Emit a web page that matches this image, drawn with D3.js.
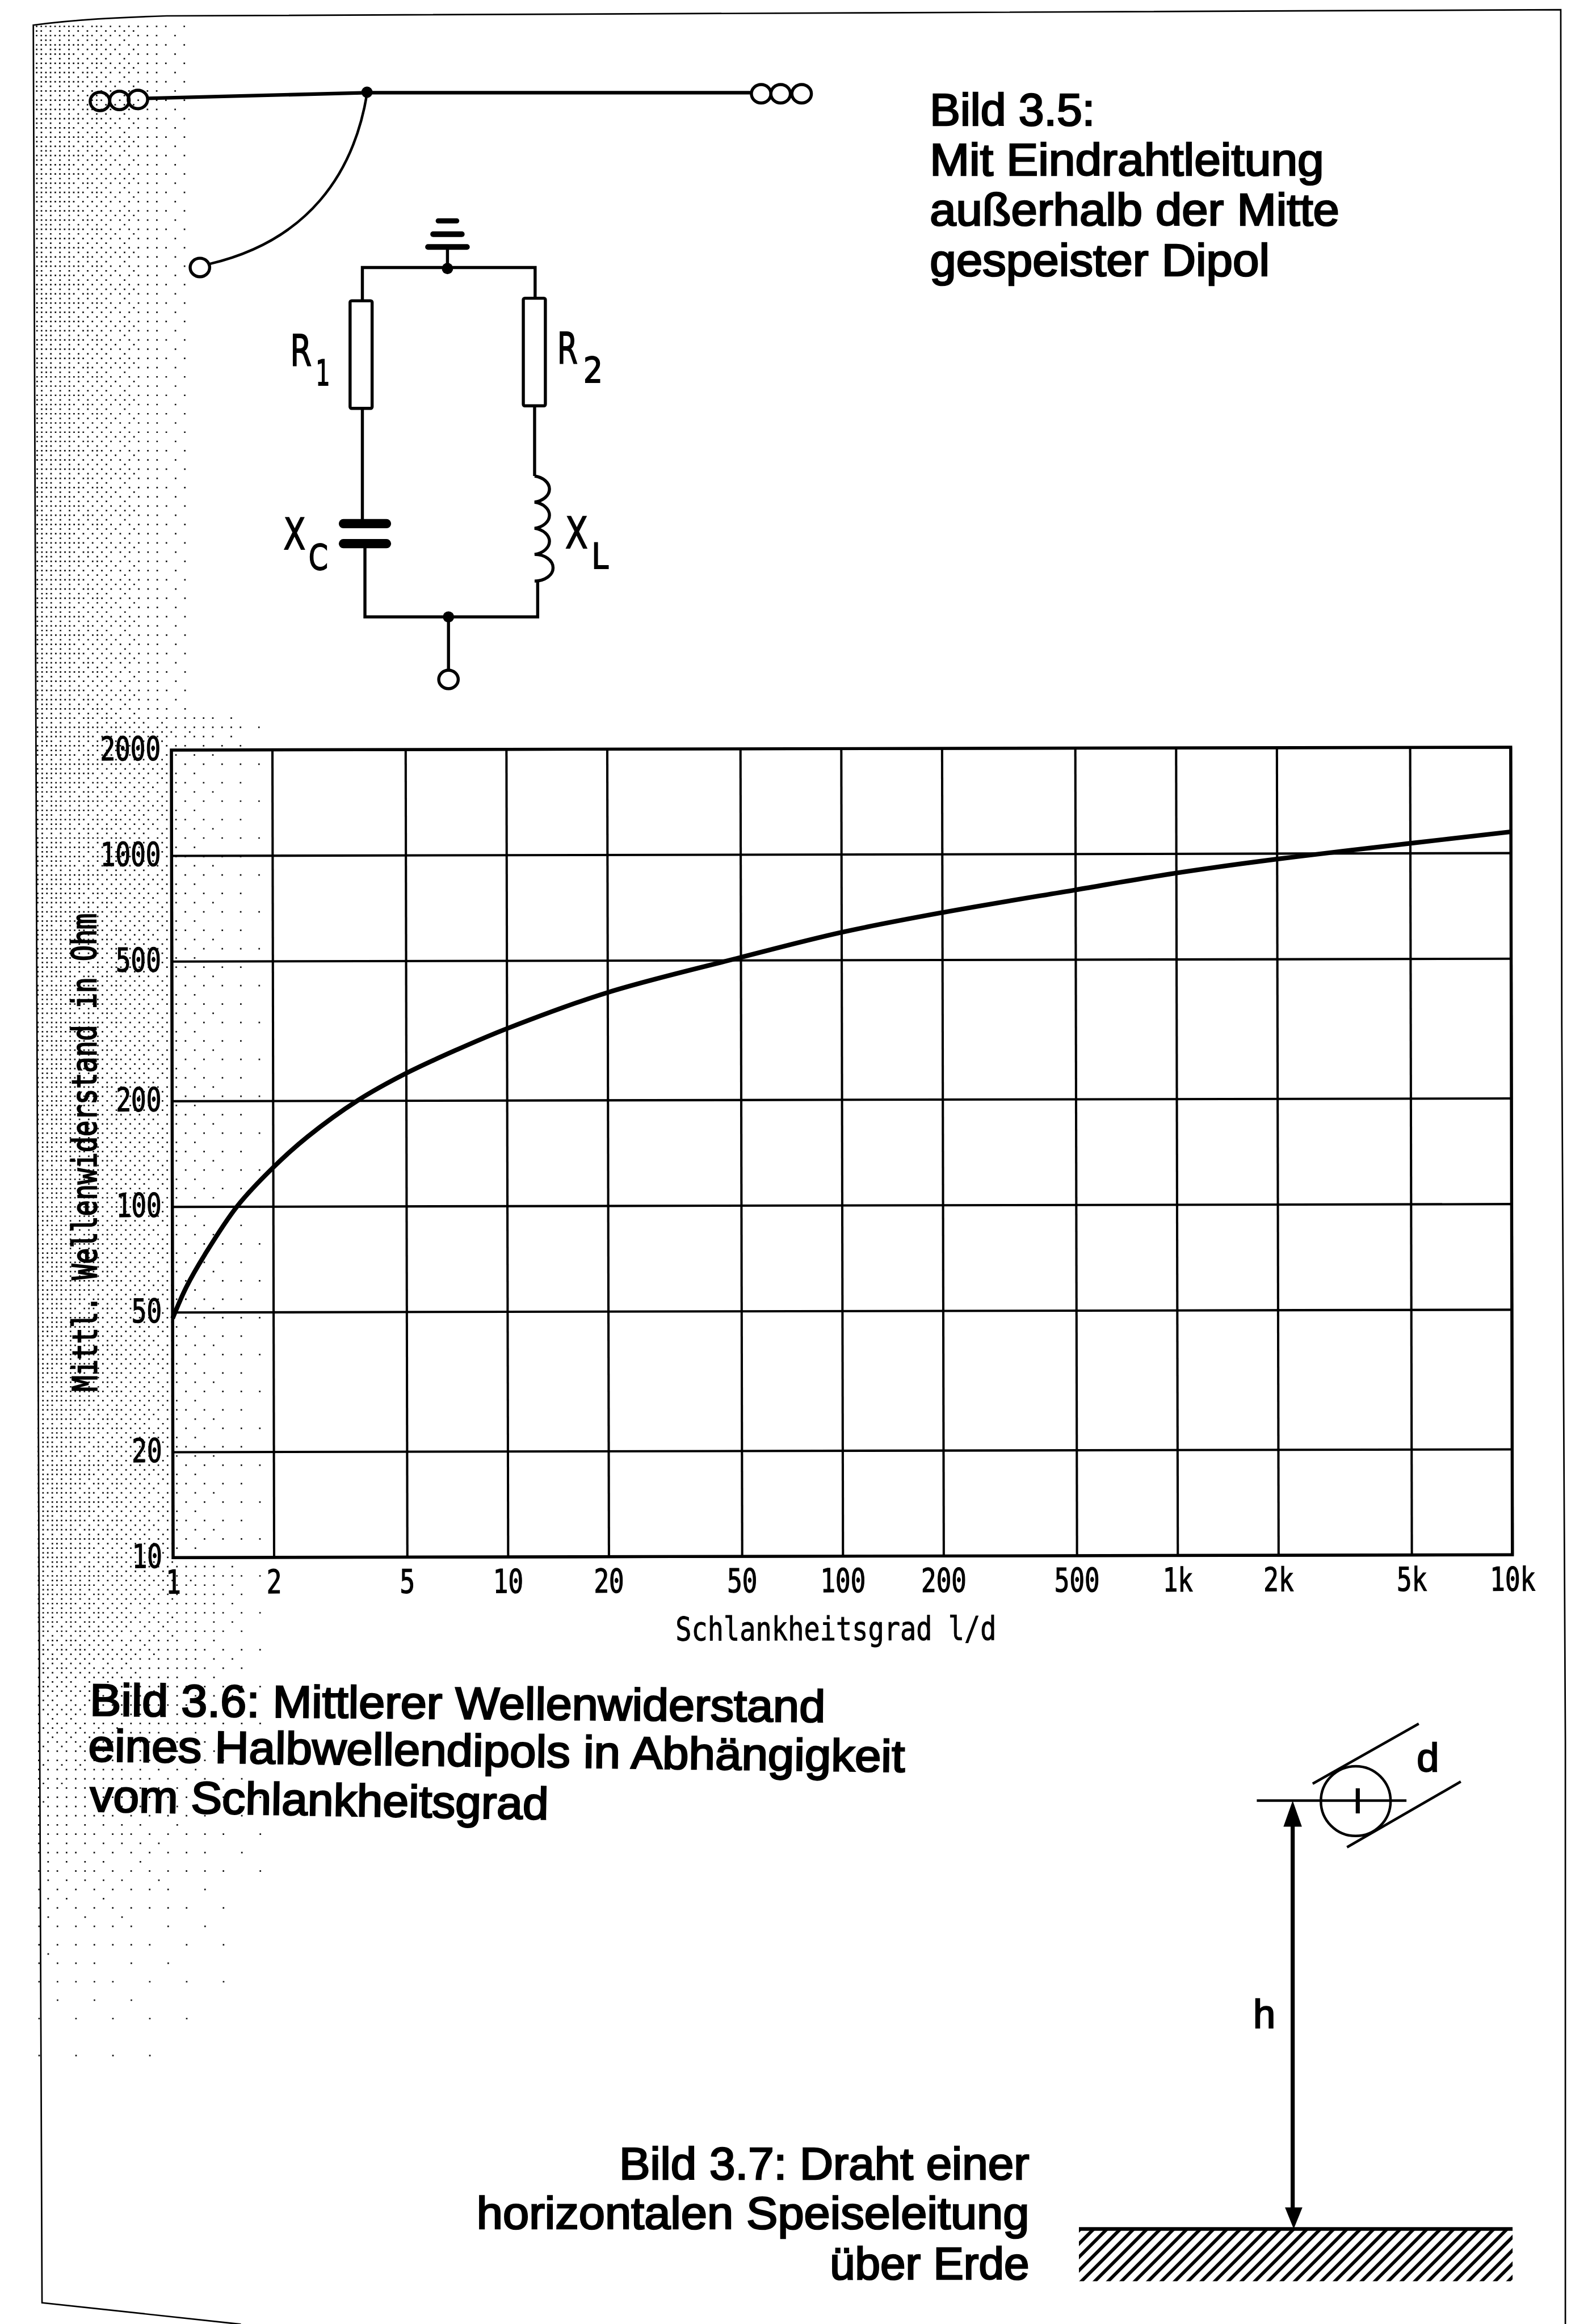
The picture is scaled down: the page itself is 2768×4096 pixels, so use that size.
<!DOCTYPE html>
<html>
<head>
<meta charset="utf-8">
<script src="https://cdn.jsdelivr.net/npm/d3@7"></script>
<style>
  html, body { margin: 0; background: #fff; }
  svg { display: block; }
</style>
</head>
<body>
<div id="chart-container"></div>
<script>
// values
const xTicks = [1, 2, 5, 10, 20, 50, 100, 200, 500, 1000, 2000, 5000, 10000];
const yTicks = [10, 20, 50, 100, 200, 500, 1000, 2000];
const curveX = [1, 1.1, 1.25, 1.56, 2, 2.54, 3.58, 5, 7.1, 10, 20, 50, 100, 200, 500, 1000, 2000, 5000, 10000];
const curveY = [48, 59, 73, 100, 129, 158, 200, 239, 279, 320, 405, 509, 599, 681, 789, 880, 963, 1066, 1148];
const xTitle = "Schlankheitsgrad l/d";
const yTitle = "Mittl. Wellenwiderstand in Ohm";

const caption35 = [["Bild 3.5:", 322, 245], ["Mit Eindrahtleitung", 769, 342], ["außerhalb der Mitte", 799, 440], ["gespeister Dipol", 663, 538]];
const caption36 = [["Bild 3.6: Mittlerer Wellenwiderstand", 1435, 175, 3348, 0.5], ["eines Halbwellendipols in Abhängigkeit", 1593, 172, 3437, 0.75], ["vom Schlankheitsgrad", 895, 175, 3535, 1.0]];
const caption37 = [["Bild 3.7: Draht einer", 800, 4253], ["horizontalen Speiseleitung", 1078, 4350], ["über Erde", 389, 4448]];

const refWidth = 3065, refHeight = 4536;
const pageWidth = 2768, pageHeight = 4096;
const mono = "'DejaVu Sans Mono', monospace";
const sans = "'Liberation Sans', Arial, sans-serif";

const root = d3.select("#chart-container").append("svg")
    .attr("width", pageWidth)
    .attr("height", pageHeight);

root.append("rect").attr("width", pageWidth).attr("height", pageHeight).attr("fill", "#fff");

const svg = root.append("g").attr("transform", `scale(${pageWidth / refWidth})`);

// halftone shading along the left edge, ordered dither so it stays the same every run
const bayer = [
    [0, 32, 8, 40, 2, 34, 10, 42],
    [48, 16, 56, 24, 50, 18, 58, 26],
    [12, 44, 4, 36, 14, 46, 6, 38],
    [60, 28, 52, 20, 62, 30, 54, 22],
    [3, 35, 11, 43, 1, 33, 9, 41],
    [51, 19, 59, 27, 49, 17, 57, 25],
    [15, 47, 7, 39, 13, 45, 5, 37],
    [63, 31, 55, 23, 61, 29, 53, 21]
];

function shade(px, py) {
    const reach = py < 1400 ? 385 : 520;
    const t = (px - 70) / (reach - 70);
    if (t >= 1) return 0;
    let d = 0.03 + 0.85 * Math.pow(1 - t, 1.1);
    if (px > 336 && py > 1440 && py < 3050) d *= 0.45;
    if (py > 3100) d *= Math.pow(Math.max(0, 1 - (py - 3100) / 1150), 2.5);
    return d;
}

let dots = "";
const cell = 9;
for (let j = 0; 50 + j * cell < 4250; j++) {
    for (let i = 0; 72 + i * cell < 520; i++) {
        const px = 70 + i * cell + (j / 90), py = 50 + j * cell;
        if ((bayer[j % 8][i % 8] + 0.5) / 64 < shade(px, py)) {
            dots += `M${px.toFixed(1)},${py}h3v3h-3z`;
        }
    }
}
svg.append("path").attr("d", dots).attr("fill", "#111");

// page frame
const frame = svg.append("g").attr("fill", "none").attr("stroke", "#000").attr("stroke-width", 3);
frame.append("path").attr("d", "M470,4536 L82,4494 C80,4000 78,3400 75,2800 L70,1400 L65,49 C150,38 230,34 325,31 L1700,25 L3045,19 L3047,2000 L3054,3400 L3054,4536");

// main chart
const x = d3.scaleLog().domain([1, 10000]).range([336, 2949]);
const y = d3.scaleLog().domain([10, 2000]).range([3037, 1461]);

const plot = svg.append("g")
    .attr("transform", `rotate(-0.12 ${(x.range()[0] + x.range()[1]) / 2} ${(y.range()[0] + y.range()[1]) / 2})`);

const xAxis = d3.axisBottom(x)
    .tickValues(xTicks)
    .tickFormat(d => d >= 1000 ? (d / 1000) + "k" : d)
    .tickSize(-(y.range()[0] - y.range()[1]))
    .tickSizeOuter(0);

const yAxis = d3.axisLeft(y)
    .tickValues(yTicks)
    .tickFormat(d => d)
    .tickSize(-(x.range()[1] - x.range()[0]))
    .tickSizeOuter(0);

const gx = plot.append("g").attr("transform", `translate(0,${y.range()[0]})`).call(xAxis);
const gy = plot.append("g").attr("transform", `translate(${x.range()[0]},0)`).call(yAxis);

[gx, gy].forEach(g => {
    g.select(".domain").remove();
    g.selectAll(".tick line").attr("stroke", "#000").attr("stroke-width", 4.5);
    g.selectAll(".tick text")
        .attr("fill", "#000")
        .attr("stroke", "#000")
        .attr("stroke-width", 1.5)
        .style("font-family", mono)
        .style("font-size", "64px")
        .attr("lengthAdjust", "spacingAndGlyphs")
        .attr("textLength", function() { return this.textContent.length * 29.5; });
});

gx.selectAll(".tick text").attr("y", 70).attr("dy", 0);
gy.selectAll(".tick text").attr("x", -21).attr("dy", "0.3em");

// outer box of the plot
plot.append("rect")
    .attr("x", x.range()[0])
    .attr("y", y.range()[1])
    .attr("width", x.range()[1] - x.range()[0])
    .attr("height", y.range()[0] - y.range()[1])
    .attr("fill", "none")
    .attr("stroke", "#000")
    .attr("stroke-width", 6);

const line = d3.line()
    .x((d, i) => x(curveX[i]))
    .y(d => y(d))
    .curve(d3.curveCatmullRom.alpha(0.5));

plot.append("path")
    .attr("d", line(curveY))
    .attr("fill", "none")
    .attr("stroke", "#000")
    .attr("stroke-width", 9);

plot.append("text")
    .attr("x", 1629)
    .attr("y", 3201)
    .attr("text-anchor", "middle")
    .attr("textLength", 626)
    .attr("lengthAdjust", "spacingAndGlyphs")
    .style("font-family", mono)
    .style("font-size", "64px")
    .attr("stroke", "#000")
    .attr("stroke-width", 1)
    .text(xTitle);

plot.append("text")
    .attr("transform", "translate(188,2246) rotate(-90)")
    .attr("text-anchor", "middle")
    .attr("textLength", 933)
    .attr("lengthAdjust", "spacingAndGlyphs")
    .style("font-family", mono)
    .style("font-size", "66px")
    .attr("stroke", "#000")
    .attr("stroke-width", 2.5)
    .text(yTitle);

// captions
const captions = svg.append("g")
    .style("font-family", sans)
    .style("font-size", "88px")
    .attr("fill", "#000")
    .attr("stroke", "#000")
    .attr("stroke-width", 3);

captions.selectAll("text.c35").data(caption35).enter().append("text")
    .attr("x", 1814).attr("y", d => d[2])
    .attr("textLength", d => d[1]).attr("lengthAdjust", "spacingAndGlyphs")
    .text(d => d[0]);

captions.selectAll("text.c36").data(caption36).enter().append("text")
    .attr("transform", d => `translate(${d[2]},${d[3]}) rotate(${d[4]})`)
    .attr("textLength", d => d[1]).attr("lengthAdjust", "spacingAndGlyphs")
    .text(d => d[0]);

captions.selectAll("text.c37").data(caption37).enter().append("text")
    .attr("x", 2008).attr("y", d => d[2])
    .attr("text-anchor", "end")
    .attr("textLength", d => d[1]).attr("lengthAdjust", "spacingAndGlyphs")
    .text(d => d[0]);

// Bild 3.5 wire antenna
const wire = svg.append("g").attr("fill", "none").attr("stroke", "#000").attr("stroke-width", 6);
wire.append("path").attr("d", "M286,192 L716,181 L1466,181").attr("stroke-width", 7);
wire.append("path").attr("d", "M716,183 C690,340 600,470 409,515").attr("stroke-width", 5);
[[195, 198], [233, 196], [269, 194], [1485, 183], [1523, 183], [1564, 183]].forEach(c => {
    wire.append("ellipse").attr("cx", c[0]).attr("cy", c[1]).attr("rx", 19).attr("ry", 18);
});
wire.append("ellipse").attr("cx", 390).attr("cy", 522).attr("rx", 19).attr("ry", 18);
svg.append("circle").attr("cx", 716).attr("cy", 180).attr("r", 11);

// equivalent circuit
const net = svg.append("g").attr("fill", "none").attr("stroke", "#000").attr("stroke-width", 6);
net.append("path").attr("d", "M707,587 V522 H1044 V582");
net.append("path").attr("d", "M707,797 V1022");
net.append("path").attr("d", "M712,1061 V1204 H1049 V1134");
net.append("path").attr("d", "M1043,792 V929");
net.append("path").attr("d", "M1043,929 a36,26 0 0 1 0,51 a36,26 0 0 1 0,51 a36,26 0 0 1 0,51 a36,26 0 0 1 0,52");
net.append("rect").attr("x", 683).attr("y", 587).attr("width", 43).attr("height", 210).attr("rx", 3);
net.append("rect").attr("x", 1021).attr("y", 582).attr("width", 43).attr("height", 210).attr("rx", 3);
net.append("path").attr("d", "M873,482 V522");
net.append("path").attr("d", "M875,1204 V1308");
net.append("ellipse").attr("cx", 875).attr("cy", 1326).attr("rx", 19).attr("ry", 18);

const plates = svg.append("g").attr("stroke", "#000").attr("stroke-linecap", "round");
plates.append("line").attr("x1", 670).attr("x2", 754).attr("y1", 1022).attr("y2", 1022).attr("stroke-width", 18);
plates.append("line").attr("x1", 670).attr("x2", 754).attr("y1", 1061).attr("y2", 1061).attr("stroke-width", 18);
plates.append("line").attr("x1", 855).attr("x2", 891).attr("y1", 431).attr("y2", 431).attr("stroke-width", 10);
plates.append("line").attr("x1", 845).attr("x2", 901).attr("y1", 457).attr("y2", 457).attr("stroke-width", 11);
plates.append("line").attr("x1", 835).attr("x2", 911).attr("y1", 482).attr("y2", 482).attr("stroke-width", 11);
svg.append("circle").attr("cx", 873).attr("cy", 524).attr("r", 11);
svg.append("circle").attr("cx", 875).attr("cy", 1204).attr("r", 11);

const circuitLabels = [
    ["R", 566, 714, 42, 84], ["1", 616, 752, 28, 68],
    ["R", 1087, 710, 40, 84], ["2", 1138, 746, 38, 68],
    ["X", 553, 1072, 43, 84], ["C", 602, 1112, 38, 68],
    ["X", 1103, 1070, 44, 84], ["L", 1154, 1110, 33, 68]
];
svg.append("g").selectAll("text").data(circuitLabels).enter().append("text")
    .attr("x", d => d[1])
    .attr("y", d => d[2])
    .attr("textLength", d => d[3])
    .attr("lengthAdjust", "spacingAndGlyphs")
    .attr("fill", "#000")
    .attr("stroke", "#000")
    .attr("stroke-width", 2)
    .style("font-family", "'DejaVu Sans', sans-serif")
    .style("font-size", d => d[4] + "px")
    .text(d => d[0]);

// Bild 3.7 wire above ground
const defs = svg.append("defs");
const hatch = defs.append("pattern")
    .attr("id", "hatch")
    .attr("patternUnits", "userSpaceOnUse")
    .attr("width", 18.4)
    .attr("height", 18.4)
    .attr("patternTransform", "rotate(45)");
hatch.append("rect").attr("width", 6.5).attr("height", 18.4).attr("fill", "#000");

svg.append("rect").attr("x", 2105).attr("y", 4350).attr("width", 846).attr("height", 102).attr("fill", "url(#hatch)");
const wire2 = svg.append("g").attr("fill", "none").attr("stroke", "#000");
wire2.append("line").attr("x1", 2105).attr("x2", 2951).attr("y1", 4350).attr("y2", 4350).attr("stroke-width", 7);
wire2.append("line").attr("x1", 2452).attr("x2", 2744).attr("y1", 3514).attr("y2", 3514).attr("stroke-width", 5);
wire2.append("circle").attr("cx", 2645).attr("cy", 3515).attr("r", 68).attr("stroke-width", 5);
wire2.append("line").attr("x1", 2649).attr("x2", 2649).attr("y1", 3490).attr("y2", 3539).attr("stroke-width", 8);
wire2.append("line").attr("x1", 2561).attr("x2", 2768).attr("y1", 3481).attr("y2", 3364).attr("stroke-width", 5);
wire2.append("line").attr("x1", 2628).attr("x2", 2850).attr("y1", 3605).attr("y2", 3477).attr("stroke-width", 5);
wire2.append("line").attr("x1", 2522).attr("x2", 2522).attr("y1", 3550).attr("y2", 4320).attr("stroke-width", 8);

svg.append("path").attr("d", "M2522,3514 L2540,3565 L2504,3565 Z");
svg.append("path").attr("d", "M2524,4350 L2507,4308 L2541,4308 Z");

[["d", 2764, 3457], ["h", 2445, 3957]].forEach(t => {
    svg.append("text")
        .attr("x", t[1])
        .attr("y", t[2])
        .attr("stroke", "#000")
        .attr("stroke-width", 2.5)
        .style("font-family", sans)
        .style("font-size", "78px")
        .text(t[0]);
});
</script>
</body>
</html>
